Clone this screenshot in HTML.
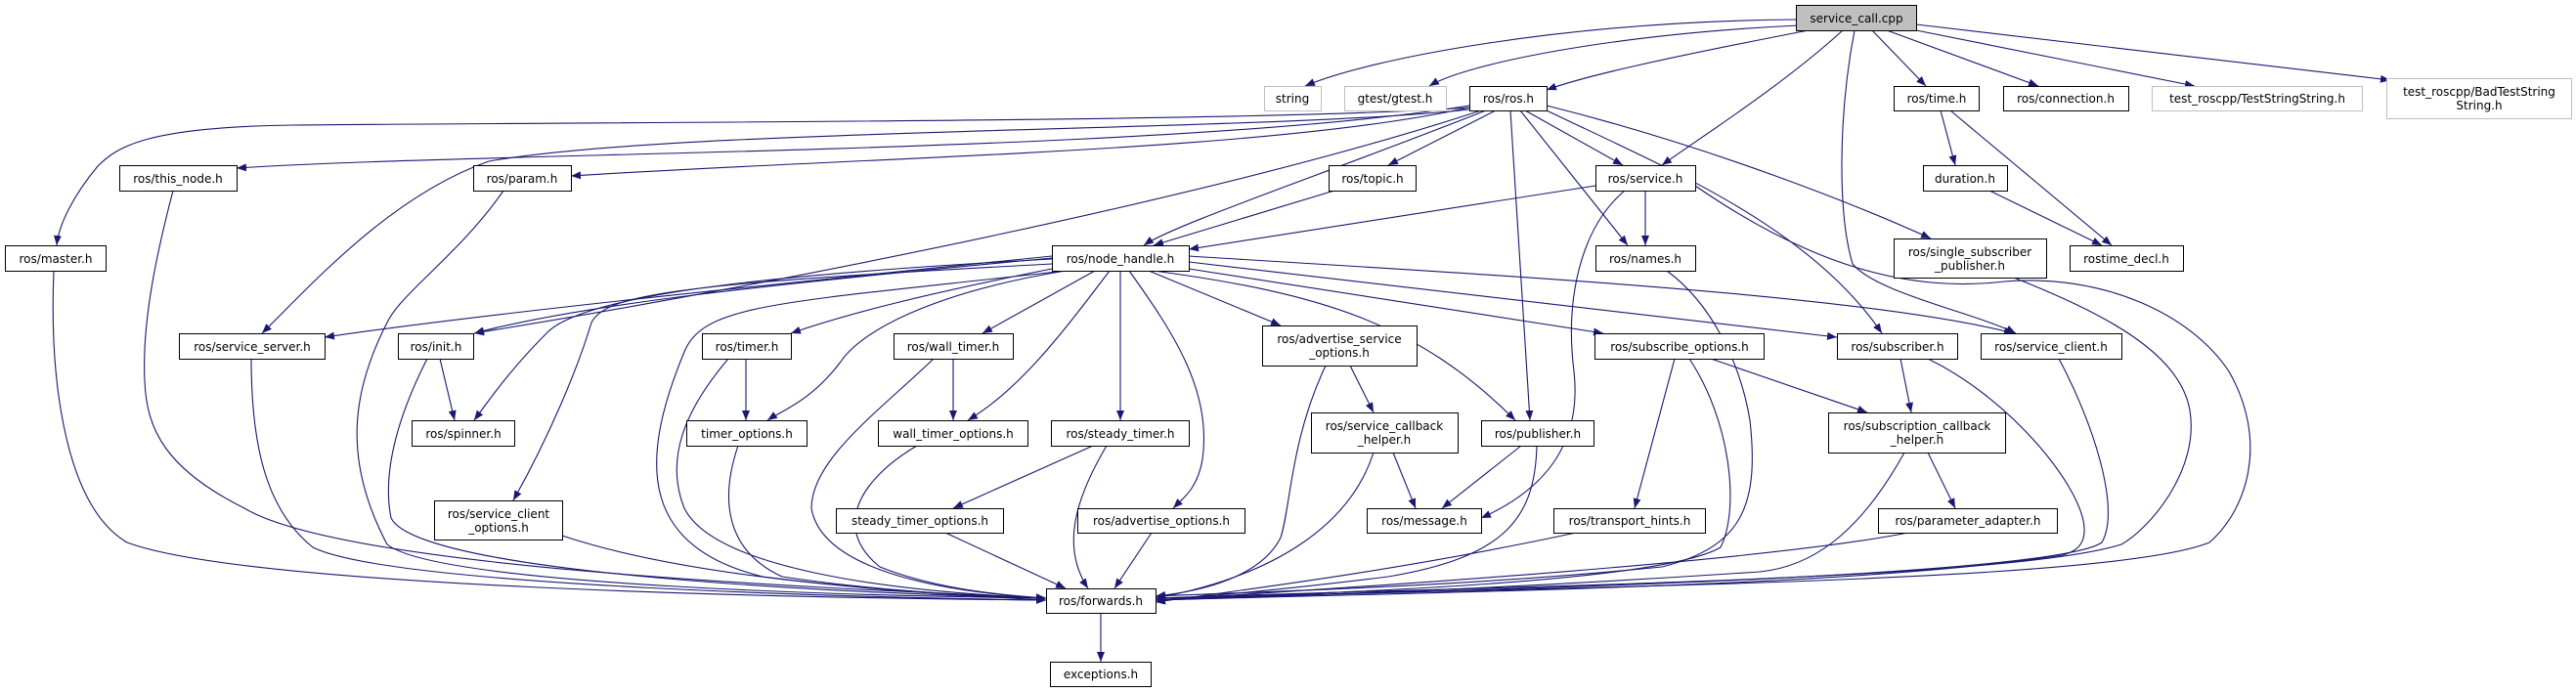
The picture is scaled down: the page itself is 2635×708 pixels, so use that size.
<!DOCTYPE html>
<html><head><meta charset="utf-8"><style>
html,body{margin:0;padding:0;background:#fff;}
svg{display:block;}
text{font-family:"DejaVu Sans","Liberation Sans",sans-serif;font-size:12px;fill:#000;}
</style></head><body>
<svg width="2635" height="708" viewBox="0 0 2635 708" xmlns="http://www.w3.org/2000/svg">
<defs>
<marker id="a" markerUnits="userSpaceOnUse" markerWidth="11" markerHeight="8" refX="10" refY="4" orient="auto">
<path d="M0,0 L10,4 L0,8 z" fill="#191970"/>
</marker>
</defs>
<g fill="none" stroke="#191970" stroke-width="1.1" marker-end="url(#a)">
<path d="M1837,20 C1600,22 1400,60 1335,88"/>
<path d="M1840,26 C1650,35 1500,65 1462,88"/>
<path d="M1850,31 C1700,60 1620,78 1582,92"/>
<path d="M1885,31 C1820,90 1740,140 1700,169"/>
<path d="M1915,31 L1970,88"/>
<path d="M1930,31 L2085,88"/>
<path d="M1960,31 L2245,88"/>
<path d="M1960,25 L2445,82"/>
<path d="M1897,31 C1880,120 1880,220 1895,270 C1920,300 2020,320 2062,341"/>
<path d="M1503,110 C1300,125 600,125 300,128 C150,130 120,150 100,170 C75,200 60,230 58,251"/>
<path d="M1503,112 C1300,135 700,130 500,165 C400,200 320,290 268,341"/>
<path d="M1503,108 C1200,157 500,155 242,172"/>
<path d="M1503,110 C1300,155 900,160 584,180"/>
<path d="M1515,113 C1250,200 800,290 485,341"/>
<path d="M1530,113 L1420,169"/>
<path d="M1520,113 C1350,180 1200,230 1170,251"/>
<path d="M1560,113 L1660,169"/>
<path d="M1555,113 L1665,251"/>
<path d="M1545,113 L1565,430"/>
<path d="M1582,113 C1700,170 1850,230 1925,341"/>
<path d="M1582,108 C1750,150 1900,210 1975,244"/>
<path d="M1365,195 L1180,251"/>
<path d="M1632,190 L1216,255"/>
<path d="M1683,195 L1683,251"/>
<path d="M1662,195 C1620,230 1600,300 1610,380 C1620,470 1560,510 1515,530"/>
<path d="M1734,190 C1850,270 1950,300 2050,288 C2150,280 2240,320 2280,380 C2320,450 2300,520 2260,555 C2150,600 1500,600 1182,614"/>
<path d="M2060,284 C2150,320 2230,360 2240,420 C2250,480 2200,540 2170,557 C2050,595 1500,600 1182,612"/>
<path d="M1705,277 C1750,310 1780,370 1790,430 C1800,520 1780,560 1700,580 C1500,600 1300,605 1182,610"/>
<path d="M177,195 C160,260 145,330 148,390 C150,440 170,480 250,520 C350,580 800,600 1070,612"/>
<path d="M55,277 C50,400 70,520 130,555 C250,600 800,612 1070,614"/>
<path d="M515,195 C470,260 410,300 396,330 C360,400 350,470 396,557 C450,600 900,610 1070,612"/>
<path d="M257,367 C257,450 270,520 320,560 C400,600 900,612 1070,614"/>
<path d="M437,367 C410,420 390,480 400,530 C430,590 900,608 1070,612"/>
<path d="M450,367 L465,430"/>
<path d="M1076,265 C800,280 600,300 560,340 C520,380 500,410 485,430"/>
<path d="M1076,270 C700,290 620,300 605,330 C590,380 560,450 525,512"/>
<path d="M1076,262 C800,290 500,320 332,345"/>
<path d="M1076,264 C800,290 600,310 485,341"/>
<path d="M1076,275 C950,300 870,320 809,341"/>
<path d="M1090,277 C950,300 880,340 860,370 C830,410 800,420 785,430"/>
<path d="M1090,277 C800,310 720,310 700,360 C650,480 660,560 780,590 C900,605 1000,610 1070,612"/>
<path d="M1120,277 L1005,341"/>
<path d="M1135,277 C1080,350 1040,400 990,430"/>
<path d="M1146,277 L1146,430"/>
<path d="M1155,277 C1200,340 1240,400 1230,470 C1225,500 1210,510 1200,520"/>
<path d="M1175,277 L1310,333"/>
<path d="M1180,277 C1350,300 1450,330 1550,430"/>
<path d="M1216,275 L1640,341"/>
<path d="M1216,268 L1879,345"/>
<path d="M1216,262 C1500,280 1900,300 2060,341"/>
<path d="M763,367 L763,430"/>
<path d="M745,367 C700,420 680,470 700,520 C730,580 900,605 1070,612"/>
<path d="M755,456 C740,500 735,560 800,590 C900,605 1000,610 1070,612"/>
<path d="M975,367 L975,430"/>
<path d="M955,367 C900,420 830,470 830,520 C840,580 950,605 1070,612"/>
<path d="M938,456 C880,490 850,540 900,580 C950,600 1010,608 1070,612"/>
<path d="M1118,456 L975,520"/>
<path d="M1132,456 C1100,510 1085,560 1113,602"/>
<path d="M967,545 L1090,602"/>
<path d="M1178,545 L1140,602"/>
<path d="M1381,374 L1405,422"/>
<path d="M1356,374 C1320,450 1320,520 1310,550 C1290,590 1230,605 1182,610"/>
<path d="M1425,463 L1448,520"/>
<path d="M1405,463 C1380,540 1300,590 1182,612"/>
<path d="M1556,456 L1475,520"/>
<path d="M1572,456 C1570,530 1540,570 1420,590 C1300,605 1230,610 1182,614"/>
<path d="M1713,367 L1672,520"/>
<path d="M1728,367 C1770,430 1780,520 1760,560 C1700,595 1400,605 1182,614"/>
<path d="M1750,367 L1910,422"/>
<path d="M1612,545 C1450,580 1300,600 1182,616"/>
<path d="M1944,367 L1955,422"/>
<path d="M1972,367 C2060,410 2130,500 2132,540 C2133,560 2120,565 2110,568 C1900,600 1500,605 1182,614"/>
<path d="M2106,367 C2140,430 2170,520 2150,555 C2100,590 1500,605 1182,612"/>
<path d="M1972,463 L2000,520"/>
<path d="M1948,463 C1900,550 1850,580 1800,585 C1500,605 1300,610 1182,614"/>
<path d="M1952,545 C1800,575 1400,600 1182,614"/>
<path d="M575,548 C700,590 900,605 1070,614"/>
<path d="M1126,627 L1126,677"/>
<path d="M1985,113 L2000,169"/>
<path d="M1995,113 L2160,251"/>
<path d="M2035,195 L2150,251"/>
</g>
<g stroke="#000" stroke-width="1" fill="#fff">
<rect x="1837.5" y="5.5" width="123" height="26" fill="#bfbfbf"/>
<rect x="1293.5" y="88.5" width="58" height="25" stroke="#bfbfbf"/>
<rect x="1375.5" y="88.5" width="104" height="25" stroke="#bfbfbf"/>
<rect x="1503.5" y="88.5" width="79" height="25"/>
<rect x="1937.5" y="88.5" width="87" height="25"/>
<rect x="2049.5" y="88.5" width="128" height="25"/>
<rect x="2201.5" y="88.5" width="215" height="25" stroke="#bfbfbf"/>
<rect x="2441.5" y="80.5" width="189" height="41" stroke="#bfbfbf"/>
<rect x="122.5" y="169.5" width="120" height="26"/>
<rect x="484.5" y="169.5" width="100" height="26"/>
<rect x="1359.5" y="169.5" width="89" height="26"/>
<rect x="1632.5" y="169.5" width="102" height="26"/>
<rect x="1967.5" y="169.5" width="86" height="26"/>
<rect x="5.5" y="251.5" width="103" height="26"/>
<rect x="1076.5" y="251.5" width="140" height="26"/>
<rect x="1632.5" y="251.5" width="102" height="26"/>
<rect x="1937.5" y="244.5" width="156" height="40"/>
<rect x="2117.5" y="251.5" width="116" height="26"/>
<rect x="183.5" y="341.5" width="149" height="26"/>
<rect x="407.5" y="341.5" width="77" height="26"/>
<rect x="718.5" y="341.5" width="91" height="26"/>
<rect x="914.5" y="341.5" width="122" height="26"/>
<rect x="1291.5" y="333.5" width="158" height="41"/>
<rect x="1631.5" y="341.5" width="173" height="26"/>
<rect x="1879.5" y="341.5" width="123" height="26"/>
<rect x="2026.5" y="341.5" width="144" height="26"/>
<rect x="421.5" y="430.5" width="105" height="26"/>
<rect x="702.5" y="430.5" width="123" height="26"/>
<rect x="898.5" y="430.5" width="153" height="26"/>
<rect x="1075.5" y="430.5" width="141" height="26"/>
<rect x="1341.5" y="422.5" width="150" height="41"/>
<rect x="1515.5" y="430.5" width="115" height="26"/>
<rect x="1870.5" y="422.5" width="181" height="41"/>
<rect x="444.5" y="512.5" width="131" height="40"/>
<rect x="855.5" y="520.5" width="171" height="25"/>
<rect x="1102.5" y="520.5" width="171" height="25"/>
<rect x="1398.5" y="520.5" width="117" height="25"/>
<rect x="1589.5" y="520.5" width="155" height="25"/>
<rect x="1921.5" y="520.5" width="183" height="25"/>
<rect x="1070.5" y="602.5" width="112" height="25"/>
<rect x="1074.5" y="677.5" width="103" height="25"/>
</g>
<g text-anchor="middle">
<text x="1899" y="23">service_call.cpp</text>
<text x="1322" y="105">string</text>
<text x="1427" y="105">gtest/gtest.h</text>
<text x="1543" y="105">ros/ros.h</text>
<text x="1981" y="105">ros/time.h</text>
<text x="2113" y="105">ros/connection.h</text>
<text x="2309" y="105">test_roscpp/TestStringString.h</text>
<text x="2536" y="98">test_roscpp/BadTestString</text>
<text x="2536" y="112">String.h</text>
<text x="182" y="187">ros/this_node.h</text>
<text x="534" y="187">ros/param.h</text>
<text x="1404" y="187">ros/topic.h</text>
<text x="1683" y="187">ros/service.h</text>
<text x="2010" y="187">duration.h</text>
<text x="57" y="269">ros/master.h</text>
<text x="1146" y="269">ros/node_handle.h</text>
<text x="1683" y="269">ros/names.h</text>
<text x="2015" y="262">ros/single_subscriber</text>
<text x="2015" y="276">_publisher.h</text>
<text x="2175" y="269">rostime_decl.h</text>
<text x="258" y="359">ros/service_server.h</text>
<text x="446" y="359">ros/init.h</text>
<text x="764" y="359">ros/timer.h</text>
<text x="975" y="359">ros/wall_timer.h</text>
<text x="1370" y="351">ros/advertise_service</text>
<text x="1370" y="365">_options.h</text>
<text x="1718" y="359">ros/subscribe_options.h</text>
<text x="1941" y="359">ros/subscriber.h</text>
<text x="2098" y="359">ros/service_client.h</text>
<text x="474" y="448">ros/spinner.h</text>
<text x="764" y="448">timer_options.h</text>
<text x="975" y="448">wall_timer_options.h</text>
<text x="1146" y="448">ros/steady_timer.h</text>
<text x="1416" y="440">ros/service_callback</text>
<text x="1416" y="454">_helper.h</text>
<text x="1573" y="448">ros/publisher.h</text>
<text x="1961" y="440">ros/subscription_callback</text>
<text x="1961" y="454">_helper.h</text>
<text x="510" y="530">ros/service_client</text>
<text x="510" y="544">_options.h</text>
<text x="941" y="537">steady_timer_options.h</text>
<text x="1188" y="537">ros/advertise_options.h</text>
<text x="1457" y="537">ros/message.h</text>
<text x="1667" y="537">ros/transport_hints.h</text>
<text x="2013" y="537">ros/parameter_adapter.h</text>
<text x="1126" y="619">ros/forwards.h</text>
<text x="1126" y="694">exceptions.h</text>
</g>
</svg>
</body></html>
